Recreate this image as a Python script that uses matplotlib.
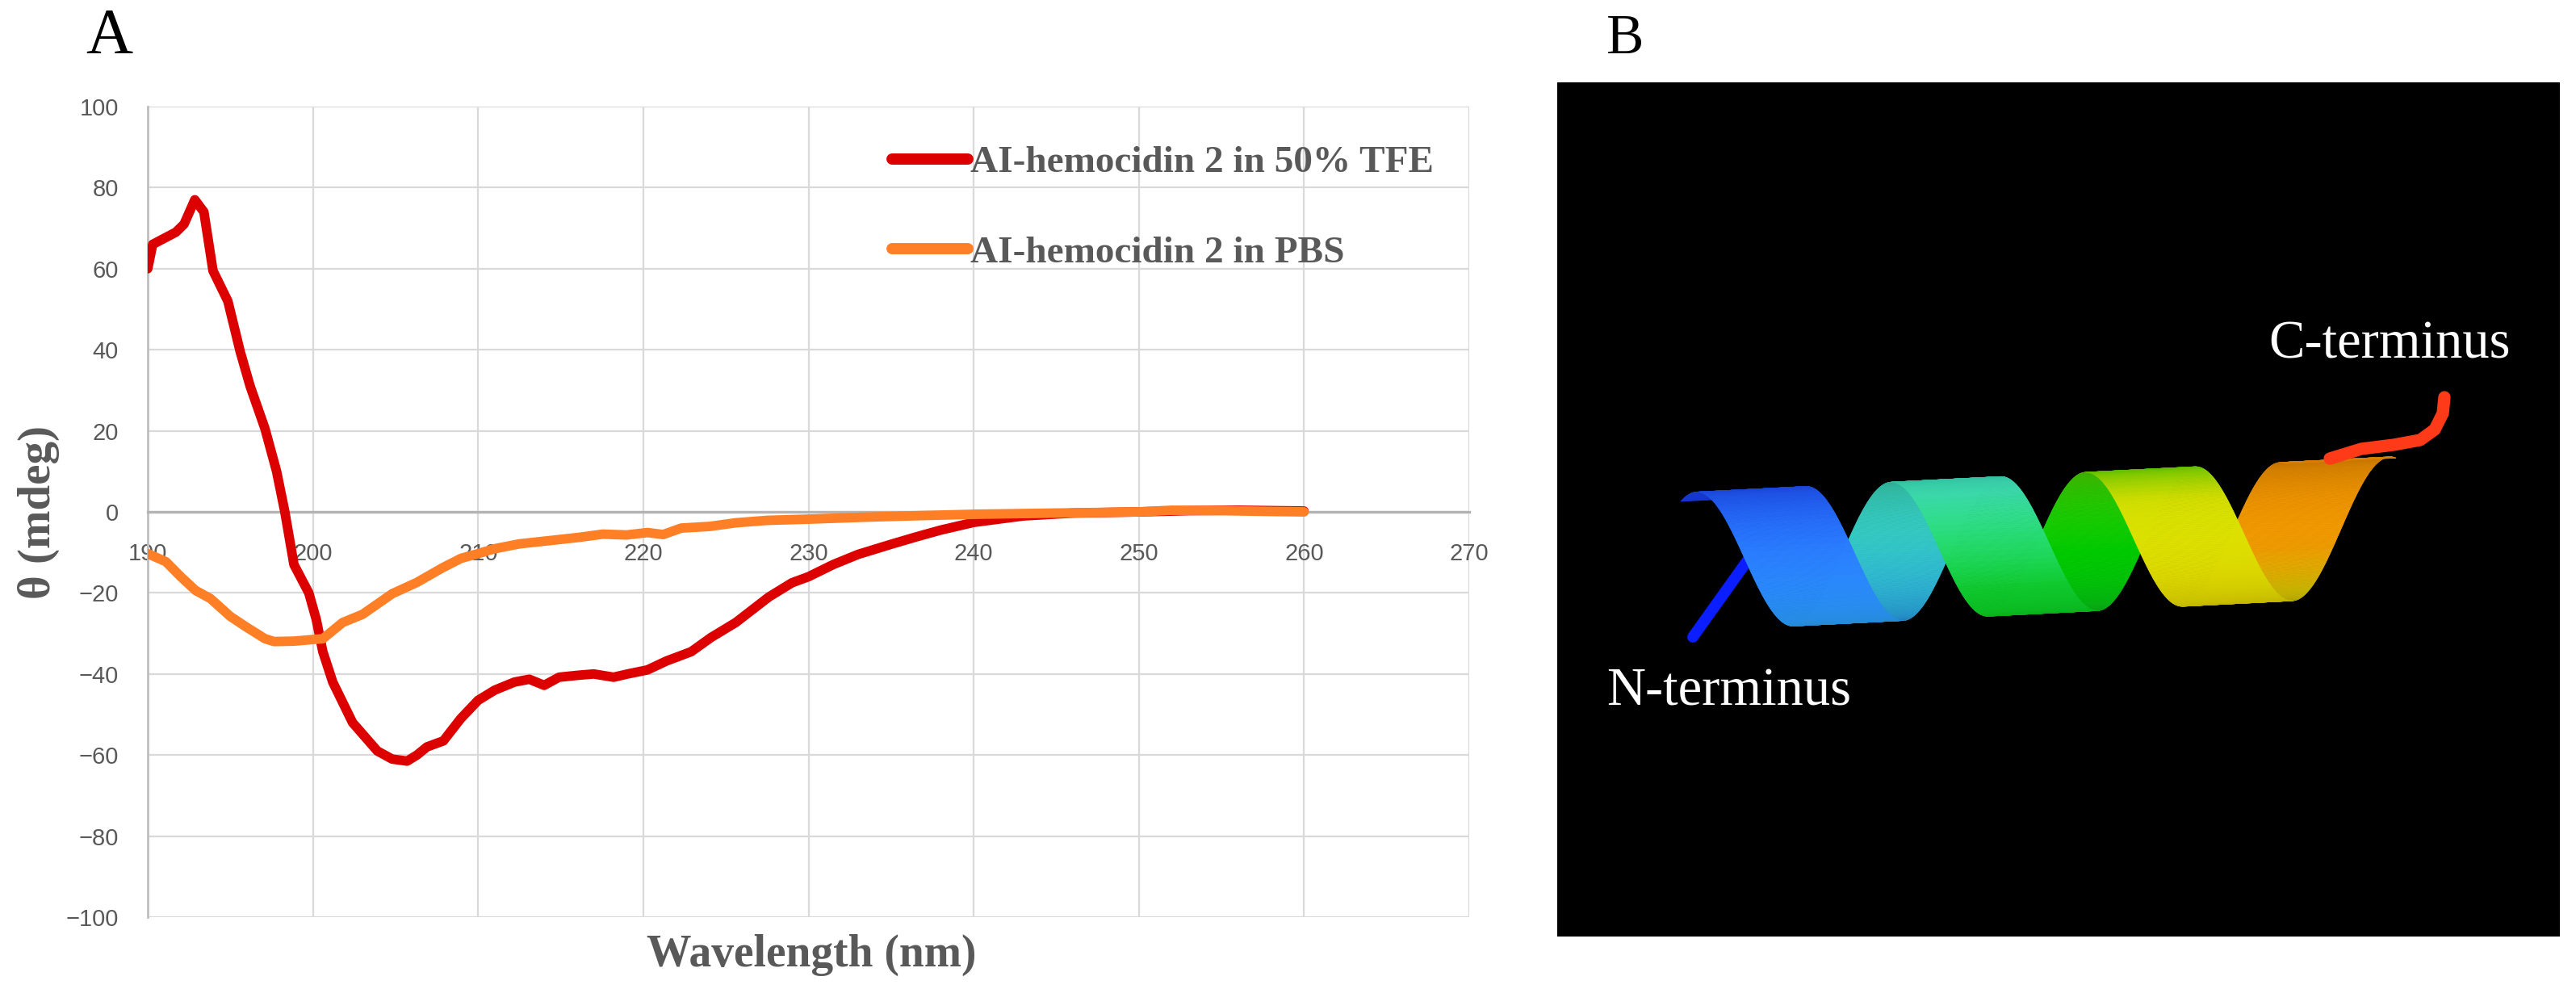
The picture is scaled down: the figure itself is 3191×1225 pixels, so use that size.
import numpy as np
import matplotlib
matplotlib.use("Agg")
import matplotlib.pyplot as plt
from matplotlib.collections import PolyCollection
from matplotlib.colors import LinearSegmentedColormap, to_rgb

# ---------------- data ----------------
tfe_wavelength = [190.0, 190.3, 191.0, 191.7, 192.2, 192.85, 193.4, 193.95, 194.85, 195.6,
                  196.2, 197.1, 197.8, 198.3, 198.85, 199.75, 200.2, 200.6, 201.2, 202.4,
                  203.9, 204.8, 205.7, 206.3, 206.9, 207.9, 208.95, 210.0, 211.0, 212.2,
                  213.1, 214.0, 214.9, 216.1, 217.0, 218.2, 219.05, 220.25, 221.4, 222.9,
                  224.1, 225.6, 227.6, 229.0, 230.0, 231.5, 233.0, 235.0, 236.5, 238.0,
                  240.0, 243.0, 246.0, 250.0, 253.0, 256.0, 260.0]
tfe_theta = [60.0, 66.0, 67.5, 69.0, 71.0, 77.0, 74.0, 59.5, 52.0, 39.5,
             31.0, 20.5, 10.0, 0.0, -13.0, -20.0, -26.5, -34.5, -42.0, -52.0,
             -59.0, -61.0, -61.5, -60.0, -58.0, -56.5, -51.0, -46.5, -44.0, -42.0,
             -41.3, -42.8, -40.8, -40.3, -40.0, -40.8, -40.0, -39.0, -36.8, -34.5,
             -31.0, -27.3, -21.0, -17.5, -16.0, -13.0, -10.5, -8.0, -6.2, -4.5,
             -2.6, -1.0, -0.3, 0.0, 0.3, 0.4, 0.2]

pbs_wavelength = [190.0, 191.1, 192.0, 192.9, 193.8, 195.0, 196.0, 197.1, 197.65, 198.85,
                  200.0, 200.6, 201.8, 203.0, 204.8, 206.3, 207.8, 208.95, 210.0, 211.0,
                  212.5, 214.3, 216.1, 217.55, 219.0, 220.25, 221.2, 222.3, 224.0, 225.6,
                  227.5, 230.0, 233.5, 237.0, 240.0, 245.0, 250.0, 252.0, 255.0, 258.0, 260.0]
pbs_theta = [-10.3, -12.3, -16.0, -19.4, -21.4, -25.8, -28.5, -31.3, -32.0, -31.9,
             -31.5, -31.3, -27.3, -25.3, -20.2, -17.4, -13.9, -11.5, -10.3, -9.1,
             -7.9, -7.1, -6.3, -5.5, -5.7, -5.1, -5.6, -4.0, -3.6, -2.7,
             -2.1, -1.8, -1.3, -0.9, -0.6, -0.3, 0.0, 0.4, 0.3, 0.1, 0.0]

series_labels = ["AI-hemocidin 2 in 50% TFE", "AI-hemocidin 2 in PBS"]
x_ticks = [190, 200, 210, 220, 230, 240, 250, 260, 270]
y_ticks = [-100, -80, -60, -40, -20, 0, 20, 40, 60, 80, 100]
x_label = "Wavelength (nm)"
y_label = "\u03b8 (mdeg)"
panel_labels = ["A", "B"]
terminus_labels = ["N-terminus", "C-terminus"]

# ---------------- figure ----------------
W, H = 3191, 1225
fig = plt.figure(figsize=(W / 100, H / 100), dpi=100)
fig.patch.set_facecolor("white")

serif = ["Liberation Serif", "DejaVu Serif"]
narrow = ["Liberation Sans Narrow", "Liberation Sans", "DejaVu Sans"]
gray_txt = "#595959"

# Panel A
ax = fig.add_axes([183 / W, 1 - 1136 / H, (1820 - 183) / W, (1136 - 132) / H])
ax.plot(tfe_wavelength, tfe_theta, color="#dd0000", lw=8.5, solid_capstyle="round",
        solid_joinstyle="round", label=series_labels[0], zorder=3)
ax.plot(pbs_wavelength, pbs_theta, color="#ff7f27", lw=8.5, solid_capstyle="round",
        solid_joinstyle="round", label=series_labels[1], zorder=4)
ax.set_xlim(190, 270)
ax.set_ylim(-100, 100)
ax.set_xticks(x_ticks)
ax.set_yticks(y_ticks)
ax.grid(True, color="#d9d9d9", lw=1.6, zorder=0)
ax.set_axisbelow(True)
for s in ["top", "right"]:
    ax.spines[s].set_visible(False)
ax.spines["bottom"].set_position(("data", 0))
ax.spines["bottom"].set_color("#b3b3b3")
ax.spines["bottom"].set_linewidth(2.4)
ax.spines["left"].set_color("#bfbfbf")
ax.spines["left"].set_linewidth(2.0)
ax.tick_params(axis="x", length=0, pad=27, labelsize=21, labelcolor=gray_txt)
ax.tick_params(axis="y", length=0, pad=26, labelsize=21, labelcolor=gray_txt)
for lab in ax.get_xticklabels() + ax.get_yticklabels():
    lab.set_family(narrow)

leg = ax.legend(loc="upper left", bbox_to_anchor=(1105 / W, 1 - 180 / H),
                bbox_transform=fig.transFigure, frameon=False, borderpad=0,
                borderaxespad=0, handlelength=2.0, handletextpad=0.05,
                labelspacing=1.45, prop={"family": serif, "weight": "bold", "size": 34})
for txt in leg.get_texts():
    txt.set_color(gray_txt)
for ln in leg.get_lines():
    ln.set_linewidth(10)
    ln.set_solid_capstyle("round")

fig.text(1005 / W, 1 - 1197 / H, x_label, ha="center", va="baseline",
         family=serif, weight="bold", size=40, color=gray_txt)
fig.text(48 / W, 1 - 635 / H, y_label, ha="center", va="center", rotation=90,
         family=serif, weight="bold", size=41, color=gray_txt)

fig.text(106 / W, 1 - 66 / H, panel_labels[0], ha="left", va="baseline",
         family=serif, size=58, color="black")
fig.text(1990 / W, 1 - 66 / H, panel_labels[1], ha="left", va="baseline",
         family=serif, size=50, color="black")

# Panel B : ribbon illustration of the helix
axb = fig.add_axes([1929 / W, 1 - 1160 / H, (3171 - 1929) / W, (1160 - 102) / H])
axb.set_facecolor("black")
axb.set_xlim(1929, 3171)
axb.set_ylim(1160, 102)
axb.set_xticks([])
axb.set_yticks([])
for s in axb.spines.values():
    s.set_visible(False)

rainbow = LinearSegmentedColormap.from_list("helix", [
    (0.00, "#1a40ff"), (0.10, "#2a7dff"), (0.18, "#2aa6ff"), (0.28, "#38d8d0"),
    (0.38, "#40e8b8"), (0.46, "#10d030"), (0.58, "#00d800"), (0.66, "#50e000"),
    (0.72, "#d8e400"), (0.86, "#ecd400"), (0.90, "#ffa500"), (1.00, "#ff9400")])

n = 900
t = np.linspace(0, 1, n + 1)
th0, th1 = -0.5, 6 * np.pi + 0.2
theta = th0 + (th1 - th0) * t
x0, x1, y0, y1 = 2150.0, 2900.0, 693.0, 655.0
R, hw = 86.0, 68.0
axx = x0 + (x1 - x0) * t
axy = y0 + (y1 - y0) * t
u = np.array([x1 - x0, y1 - y0])
u /= np.linalg.norm(u)
cx = axx
cy = axy - R * np.cos(theta)
ex1, ey1 = cx - hw * u[0], cy - hw * u[1]
ex2, ey2 = cx + hw * u[0], cy + hw * u[1]
polys = []
cols = []
zs = []
for i in range(n):
    polys.append([(ex1[i], ey1[i]), (ex2[i], ey2[i]), (ex2[i + 1], ey2[i + 1]), (ex1[i + 1], ey1[i + 1])])
    tm = 0.5 * (t[i] + t[i + 1])
    thm = 0.5 * (theta[i] + theta[i + 1])
    base = np.array(to_rgb(rainbow(tm)))
    front = np.sin(thm) > 0
    shade = (0.82 + 0.18 * abs(np.sin(thm))) if front else (0.74 + 0.2 * abs(np.sin(thm)))
    cols.append(np.clip(base * shade, 0, 1))
    zs.append(R * np.sin(thm))
order = np.argsort(zs)
pc = PolyCollection([polys[k] for k in order], facecolors=[cols[k] for k in order],
                    edgecolors=[cols[k] for k in order], linewidths=0.6, zorder=3)
axb.add_collection(pc)

# termini tails
n_tail_x = [2097, 2172]
n_tail_y = [789, 684]
axb.plot(n_tail_x, n_tail_y, color="#0a1eff", lw=10, solid_capstyle="round", zorder=2)
c_tail_x = [2886, 2925, 2965, 2998, 3016, 3026, 3028]
c_tail_y = [568, 556, 551, 545, 532, 512, 492]
axb.plot(c_tail_x, c_tail_y, color="#ff3a18", lw=11, solid_capstyle="round",
         solid_joinstyle="round", zorder=4)

fig.text(1990 / W, 1 - 873 / H, terminus_labels[0], ha="left", va="baseline",
         family=serif, size=48, color="white")
fig.text(2810 / W, 1 - 444 / H, terminus_labels[1], ha="left", va="baseline",
         family=serif, size=48, color="white")

fig.savefig("out.png", dpi=100)
